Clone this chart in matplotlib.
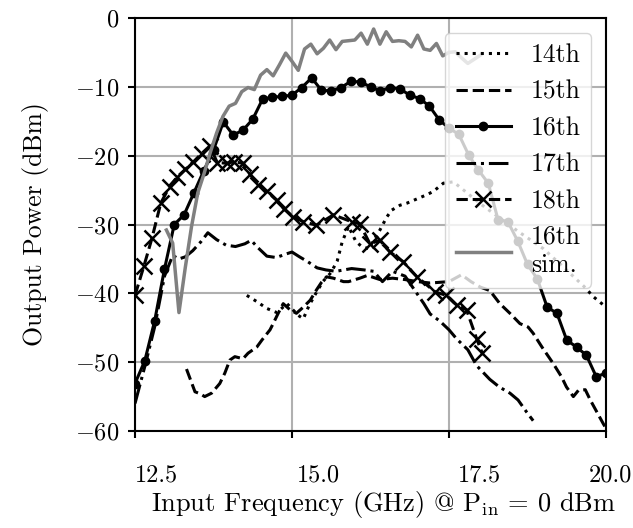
import matplotlib
matplotlib.use("Agg")
import matplotlib.pyplot as plt
from matplotlib.transforms import ScaledTranslation

plt.rcParams['font.family'] = 'serif'
plt.rcParams['font.serif'] = ['cmr10']
plt.rcParams['mathtext.fontset'] = 'cm'
plt.rcParams['axes.formatter.use_mathtext'] = True

# ---------------- data ----------------
f16 = [12.5, 12.656, 12.813, 12.969, 13.125, 13.281, 13.438, 13.594, 13.75, 13.906,
       14.063, 14.219, 14.375, 14.531, 14.688, 14.844, 15.0, 15.156, 15.313, 15.469,
       15.625, 15.781, 15.938, 16.094, 16.25, 16.406, 16.563, 16.719, 16.875, 17.031,
       17.188, 17.344, 17.5, 17.656, 17.813, 17.969, 18.125, 18.281, 18.438, 18.594,
       18.75, 18.906, 19.063, 19.219, 19.375, 19.531, 19.688, 19.844, 20.0]
p16 = [-53.1, -49.8, -44.0, -36.5, -30.0, -28.6, -25.4, -22.2, -19.2, -15.1,
       -17.0, -16.3, -14.7, -11.8, -11.5, -11.4, -11.2, -10.1, -8.7, -10.5,
       -10.6, -10.1, -9.2, -9.3, -10.0, -10.6, -10.1, -10.3, -11.2, -11.7,
       -12.8, -14.8, -16.0, -16.9, -19.9, -22.1, -24.0, -29.3, -29.6, -32.4,
       -35.8, -37.9, -42.0, -42.9, -46.8, -47.8, -49.0, -52.1, -51.6]

f14 = [14.28, 14.44, 14.6, 14.76, 14.92, 15.1, 15.18, 15.27, 15.38, 15.49,
       15.62, 15.72, 15.8, 15.9, 16.02, 16.11, 16.22, 16.4, 16.51, 16.59,
       16.72, 16.83, 17.14, 17.25, 17.41, 17.57, 17.8, 18.0, 18.3, 18.6,
       19.0, 19.3, 19.65, 19.8, 20.0]
p14 = [-40.3, -41.2, -42.2, -42.8, -41.5, -43.2, -43.7, -41.8, -40.0, -38.3,
       -37.0, -35.3, -32.5, -30.3, -32.5, -33.2, -33.5, -30.8, -28.9, -27.9,
       -27.2, -26.9, -25.7, -25.2, -24.0, -23.8, -25.5, -27.0, -29.0, -31.0,
       -33.5, -36.0, -39.0, -40.5, -42.0]

f15 = [13.32, 13.455, 13.54, 13.61, 13.72, 13.85, 13.93, 14.01, 14.09, 14.22,
       14.3, 14.44, 14.52, 14.65, 14.7, 14.78, 14.86, 14.97, 15.07, 15.18,
       15.29, 15.39, 15.47, 15.55, 15.66, 15.82, 15.9, 16.08, 16.2, 16.4,
       16.6, 16.8, 17.0, 17.2, 17.35, 17.5, 17.7, 17.85, 18.0, 18.15,
       18.31, 18.47, 18.63, 18.76, 18.84, 18.98, 19.16, 19.29, 19.37, 19.48,
       19.56, 19.67, 19.75, 19.96, 20.0]
p15 = [-51.0, -54.3, -54.6, -55.0, -54.5, -53.1, -51.6, -49.7, -49.2, -49.5,
       -48.7, -47.8, -46.8, -45.3, -44.4, -42.9, -41.5, -42.4, -42.9, -42.0,
       -41.0, -39.5, -38.4, -37.6, -37.8, -38.3, -38.3, -37.8, -37.4, -38.0,
       -37.8, -38.0, -38.3, -38.5, -38.4, -38.3, -37.3, -38.3, -39.1, -39.6,
       -41.5, -42.9, -44.4, -44.9, -45.8, -47.8, -50.2, -52.1, -53.6, -55.0,
       -54.1, -54.0, -55.5, -59.0, -59.6]

f17 = [12.5, 12.66, 12.81, 12.97, 13.1, 13.2, 13.3, 13.42, 13.55, 13.66,
       13.8, 13.95, 14.1, 14.25, 14.35, 14.45, 14.6, 14.75, 14.9, 15.0,
       15.12, 15.25, 15.4, 15.54, 15.7, 15.95, 16.15, 16.3, 16.44, 16.6,
       16.8, 16.95, 17.1, 17.2, 17.35, 17.5, 17.62, 17.8, 17.94, 18.15,
       18.3, 18.47, 18.6, 18.74, 18.84]
p17 = [-56.0, -50.5, -45.0, -37.5, -34.5, -35.0, -34.7, -33.8, -32.5, -31.2,
       -32.2, -33.0, -33.2, -32.8, -32.3, -33.3, -34.6, -34.8, -34.3, -34.0,
       -34.7, -35.4, -36.3, -36.6, -36.8, -36.4, -36.6, -36.8, -38.3, -36.8,
       -37.5, -39.5, -41.5, -43.0, -44.0, -45.3, -46.6, -48.2, -50.5, -52.5,
       -53.6, -54.5, -55.5, -57.3, -58.5]

f18 = [12.5, 12.64, 12.77, 12.91, 13.05, 13.17, 13.3, 13.43, 13.56, 13.69,
       13.81, 13.96, 14.07, 14.22, 14.33, 14.46, 14.6, 14.76, 14.87, 15.02,
       15.18, 15.39, 15.66, 15.95, 16.08, 16.24, 16.4, 16.56, 16.77, 16.99,
       17.28, 17.46, 17.62, 17.78, 17.94, 18.03]
p18 = [-40.3, -36.1, -32.0, -26.9, -24.5, -23.1, -22.0, -20.9, -19.7, -18.6,
       -21.0, -21.1, -20.9, -21.1, -22.7, -24.2, -25.2, -26.5, -27.7, -28.9,
       -29.6, -30.1, -28.6, -29.6, -29.9, -32.8, -32.3, -34.0, -35.4, -37.6,
       -39.8, -40.3, -41.7, -42.4, -46.6, -48.7]

fsim = [13.0, 13.1, 13.2, 13.3, 13.4, 13.5, 13.6, 13.7, 13.8, 13.9,
        14.0, 14.1, 14.2, 14.3, 14.4, 14.5, 14.6, 14.7, 14.8, 14.9,
        15.0, 15.1, 15.2, 15.3, 15.4, 15.5, 15.6, 15.7, 15.8, 15.9,
        16.0, 16.1, 16.2, 16.3, 16.4, 16.5, 16.6, 16.7, 16.8, 16.9,
        17.0, 17.1, 17.2, 17.3, 17.4, 17.5, 17.6, 17.7, 17.8, 17.9, 18.0]
psim = [-30.8, -32.7, -42.8, -36.3, -30.3, -25.4, -22.6, -19.5, -16.7, -14.3,
        -12.8, -12.4, -10.7, -10.1, -10.4, -8.3, -7.5, -8.4, -6.8, -5.1,
        -6.3, -7.6, -4.5, -3.8, -5.2, -4.4, -3.2, -4.6, -3.4, -3.3,
        -3.2, -2.2, -3.8, -1.6, -3.8, -2.0, -3.4, -3.3, -3.4, -4.2,
        -2.5, -4.5, -4.7, -3.7, -5.5, -5.0, -4.9, -5.8, -6.6, -6.0, -5.4]

labels = ["14th", "15th", "16th", "17th", "18th", "16th\nsim."]
xticks = [12.5, 15.0, 17.5, 20.0]
xticklabels = ["12.5", "15.0", "17.5", "20.0"]
yticks = [0, -10, -20, -30, -40, -50, -60]

# ---------------- plot ----------------
FS = 17.5
LFS = 18.5
fig = plt.figure(figsize=(6.33, 5.28), dpi=100)
ax = fig.add_subplot(111)
fig.subplots_adjust(left=135/633, right=606/633, top=1-18/528, bottom=1-431/528)

lw = 2.2
ax.plot(f14, p14, color='black', ls=':', lw=lw, label=labels[0])
ax.plot(f15, p15, color='black', ls='--', lw=lw, label=labels[1])
ax.plot(f16, p16, color='black', ls='-', lw=lw, marker='o', ms=6, label=labels[2])
ax.plot(f17, p17, color='black', ls='-.', lw=lw, label=labels[3])
ax.plot(f18, p18, color='black', ls='--', lw=lw, marker='x', ms=12, mew=1.8, label=labels[4])
ax.plot(fsim, psim, color='#808080', ls='-', lw=2.5, label=labels[5])

ax.set_xlim(12.5, 20.0)
ax.set_ylim(-60, 0)
ax.set_xticks(xticks)
ax.set_xticklabels(xticklabels)
ax.set_yticks(yticks)
ax.grid(True, color='#b0b0b0', lw=1.5)
ax.set_axisbelow(True)
for s in ax.spines.values():
    s.set_linewidth(1.5)
ax.tick_params(width=1.5, length=5, labelsize=FS, pad=6)
ax.tick_params(axis='x', pad=19)

# x tick labels sit to the right of their ticks in the reference
shifts_px = [21, 26, 30, 4]
for lab, dx in zip(ax.get_xticklabels(), shifts_px):
    lab.set_transform(lab.get_transform() + ScaledTranslation(dx / 100, 0, fig.dpi_scale_trans))

ax.set_ylabel("Output Power (dBm)", fontsize=LFS, va='center')
ax.yaxis.set_label_coords(-0.212, 0.5)
ax.set_xlabel(r"Input Frequency (GHz) @ P$_{\mathrm{in}}$ = 0 dBm", fontsize=19, va='center')
ax.xaxis.set_label_coords(0.527, -0.179)

ax.legend(loc='upper right', fontsize=LFS, handlelength=2.15, framealpha=0.8,
          borderaxespad=0.58, labelspacing=0.5, handletextpad=0.78)

fig.savefig("out.png", dpi=100)
